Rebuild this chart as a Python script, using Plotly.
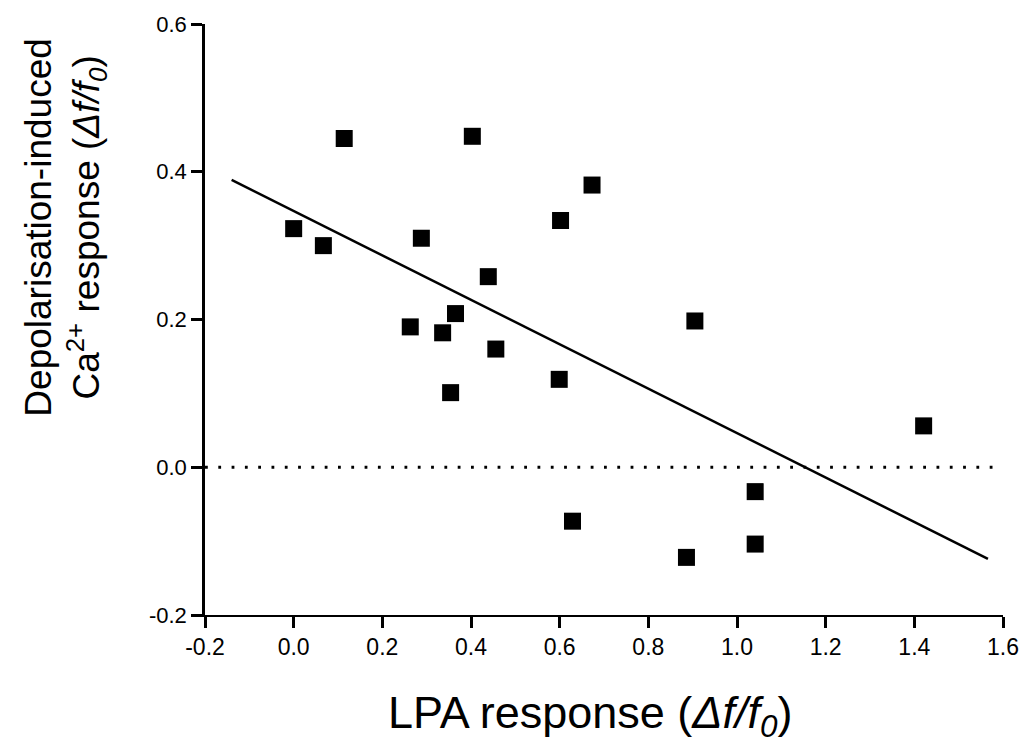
import plotly.graph_objects as go

# Data
lpa_response = [0.00, 0.067, 0.114, 0.403, 0.673, 0.602, 0.288, 0.439, 0.365, 0.263,
                0.336, 0.456, 0.599, 0.354, 0.905, 1.421, 1.041, 0.629, 1.041, 0.886]
ca_response = [0.323, 0.300, 0.445, 0.448, 0.382, 0.334, 0.310, 0.258, 0.208, 0.190,
               0.182, 0.160, 0.119, 0.101, 0.198, 0.056, -0.033, -0.073, -0.104, -0.122]

fit_x = [-0.14, 1.566]
fit_y = [0.389, -0.124]

zero_x = [-0.2, 1.6]
zero_y = [0.0, 0.0]

x_tickvals = [-0.2, 0.0, 0.2, 0.4, 0.6, 0.8, 1.0, 1.2, 1.4, 1.6]
x_ticktext = ["-0.2", "0.0", "0.2", "0.4", "0.6", "0.8", "1.0", "1.2", "1.4", "1.6"]
y_tickvals = [-0.2, 0.0, 0.2, 0.4, 0.6]
y_ticktext = ["-0.2", "0.0", "0.2", "0.4", "0.6"]

FONT = "Liberation Sans, Arial, sans-serif"

fig = go.Figure()

fig.add_trace(go.Scatter(
    x=zero_x, y=zero_y, mode="lines",
    line=dict(color="black", width=2.8, dash="2.8px,10.5px"),
    hoverinfo="skip", showlegend=False,
))

fig.add_trace(go.Scatter(
    x=fit_x, y=fit_y, mode="lines",
    line=dict(color="black", width=2.5),
    showlegend=False,
))

fig.add_trace(go.Scatter(
    x=lpa_response, y=ca_response, mode="markers",
    marker=dict(symbol="square", size=17, color="black", line=dict(width=0)),
    showlegend=False, cliponaxis=False,
))

fig.update_layout(
    width=1031, height=754,
    margin=dict(l=205, r=19, t=24, b=139),
    paper_bgcolor="white", plot_bgcolor="white",
    font=dict(family=FONT, color="black"),
    xaxis=dict(
        range=[-0.2, 1.6], showgrid=False, zeroline=False,
        showline=True, linecolor="black", linewidth=1.5,
        ticks="outside", ticklen=11, tickwidth=2.5, tickcolor="black",
        tickvals=x_tickvals, ticktext=x_ticktext,
        tickfont=dict(family=FONT, size=23, color="black"),
    ),
    yaxis=dict(
        range=[-0.2, 0.6], showgrid=False, zeroline=False,
        showline=True, linecolor="black", linewidth=2.5,
        ticks="outside", ticklen=11, tickwidth=2.5, tickcolor="black",
        tickvals=y_tickvals, ticktext=y_ticktext,
        tickfont=dict(family=FONT, size=22, color="black"),
    ),
    annotations=[
        dict(
            text="LPA response (<i>Δf/f</i><sub><i>0</i></sub>)",
            xref="paper", yref="paper", x=0.483, y=-0.17,
            xanchor="center", yanchor="middle", showarrow=False,
            font=dict(family=FONT, size=45, color="black"),
        ),
        dict(
            text="Depolarisation-induced<br>Ca<sup>2+</sup> response (<i>Δf/f</i><sub><i>0</i></sub>)",
            xref="paper", yref="paper", x=-0.175, y=0.656,
            xanchor="center", yanchor="middle", showarrow=False, textangle=-90,
            font=dict(family=FONT, size=37, color="black"),
        ),
    ],
)

fig.write_html(
    "out.html",
    config={"displayModeBar": False},
    post_script="document.body.style.margin='0';document.body.style.overflow='hidden';",
)
